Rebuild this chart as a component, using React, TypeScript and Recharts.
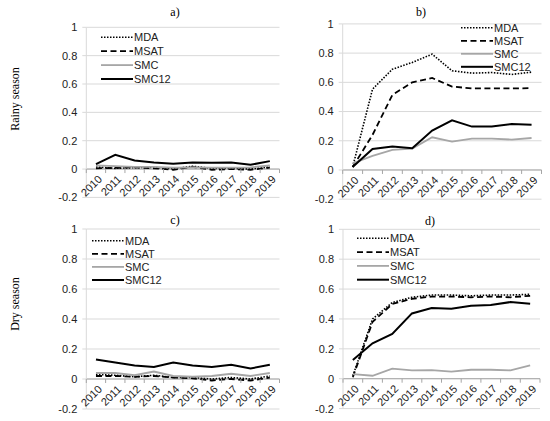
import React from "react";
import { LineChart, Line, XAxis, YAxis, CartesianGrid, ReferenceLine, ReferenceDot } from "recharts";

const years = ["2010", "2011", "2012", "2013", "2014", "2015", "2016", "2017", "2018", "2019"];
const yTicks = [-0.2, 0, 0.2, 0.4, 0.6, 0.8, 1];

// a) rainy season
const aMDA = [0.015, 0.005, 0.01, 0.012, 0.002, 0.02, 0.005, 0.005, 0.0, 0.015];
const aMSAT = [0.005, 0.008, 0.012, 0.005, -0.005, 0.015, -0.005, 0.0, -0.005, 0.01];
const aSMC = [0.025, 0.02, 0.015, 0.015, 0.01, 0.012, 0.01, 0.01, 0.012, 0.025];
const aSMC12 = [0.035, 0.1, 0.06, 0.047, 0.038, 0.047, 0.045, 0.047, 0.03, 0.056];

// b) rainy season
const bMDA = [0.02, 0.553, 0.69, 0.736, 0.793, 0.679, 0.663, 0.667, 0.654, 0.67];
const bMSAT = [0.02, 0.24, 0.514, 0.6, 0.63, 0.571, 0.558, 0.558, 0.558, 0.56];
const bSMC = [0.045, 0.096, 0.137, 0.146, 0.224, 0.194, 0.215, 0.215, 0.208, 0.219];
const bSMC12 = [0.02, 0.144, 0.16, 0.149, 0.27, 0.34, 0.297, 0.297, 0.315, 0.31];

// c) dry season
const cMDA = [0.03, 0.025, 0.015, 0.025, 0.01, 0.01, 0.0, 0.01, 0.0, 0.02];
const cMSAT = [0.02, 0.02, 0.015, 0.02, 0.01, 0.005, -0.01, 0.0, -0.01, 0.01];
const cSMC = [0.04, 0.04, 0.025, 0.05, 0.02, 0.015, 0.02, 0.035, 0.02, 0.04];
const cSMC12 = [0.13, 0.11, 0.09, 0.08, 0.11, 0.09, 0.08, 0.095, 0.07, 0.095];

// d) dry season
const dMDA = [0.02, 0.4, 0.51, 0.545, 0.56, 0.56, 0.555, 0.56, 0.56, 0.565];
const dMSAT = [0.01, 0.38, 0.5, 0.535, 0.55, 0.55, 0.545, 0.55, 0.545, 0.555];
const dSMC = [0.031, 0.02, 0.067, 0.056, 0.058, 0.047, 0.06, 0.06, 0.056, 0.089];
const dSMC12 = [0.125, 0.237, 0.3, 0.437, 0.473, 0.469, 0.489, 0.493, 0.513, 0.502];

const seriesNames = ["MDA", "MSAT", "SMC", "SMC12"];

const SANS = "'Liberation Sans Narrow', 'Arial Narrow', 'Liberation Sans', sans-serif";
const SERIF = "'Liberation Serif', 'DejaVu Serif', serif";

const styles: Record<string, { stroke: string; width: number; dash?: string }> = {
  MDA: { stroke: "#000000", width: 1.6, dash: "1.5 1.5" },
  MSAT: { stroke: "#000000", width: 1.8, dash: "6 3.5" },
  SMC: { stroke: "#a6a6a6", width: 1.8 },
  SMC12: { stroke: "#000000", width: 2 },
};

const rows = (mda: number[], msat: number[], smc: number[], smc12: number[]) =>
  years.map((year, i) => ({ year, MDA: mda[i], MSAT: msat[i], SMC: smc[i], SMC12: smc12[i] }));

const fmt = (v: number) => (v === 0 ? "0" : v === 1 ? "1" : v.toFixed(1));

interface PanelProps {
  data: ReturnType<typeof rows>;
  left: number;
  top: number;
  width: number;
  height: number;
  margin: { top: number; right: number; bottom: number; left: number };
  step: number;
}

function Panel({ data, left, top, width, height, margin, step }: PanelProps) {
  return (
    <div style={{ position: "absolute", left, top }}>
      <LineChart width={width} height={height} data={data} margin={margin}>
        <CartesianGrid vertical={false} stroke="#d9d9d9" strokeWidth={1} />
        <XAxis
          dataKey="year"
          hide
          padding={{ left: step / 2, right: step / 2 }}
        />
        <YAxis
          domain={[-0.2, 1]}
          ticks={yTicks}
          tickFormatter={fmt}
          width={40}
          axisLine={{ stroke: "#d9d9d9" }}
          tickLine={{ stroke: "#d9d9d9" }}
          tickSize={4}
          tickMargin={5}
          tick={{ fill: "#222", fontSize: 11, fontFamily: SANS }}
        />
        <ReferenceLine y={0} stroke="#a6a6a6" strokeWidth={1} />
        {years.map((year, i) => (
          <ReferenceDot
            key={year}
            x={year}
            y={0}
            r={0}
            shape={(p: any) => (
              <g>
                <line x1={p.cx - step / 2} x2={p.cx - step / 2} y1={p.cy} y2={p.cy + 4} stroke="#a6a6a6" />
                {i === years.length - 1 && (
                  <line x1={p.cx + step / 2} x2={p.cx + step / 2} y1={p.cy} y2={p.cy + 4} stroke="#a6a6a6" />
                )}
                <text
                  x={p.cx + 4}
                  y={p.cy + 8}
                  textAnchor="end"
                  dominantBaseline="central"
                  transform={`rotate(-45 ${p.cx + 4} ${p.cy + 8})`}
                  fontSize={11}
                  fontFamily={SANS}
                  fill="#222"
                >
                  {year}
                </text>
              </g>
            )}
          />
        ))}
        {seriesNames.map((name) => (
          <Line
            key={name}
            type="linear"
            dataKey={name}
            stroke={styles[name].stroke}
            strokeWidth={styles[name].width}
            strokeDasharray={styles[name].dash}
            dot={false}
            isAnimationActive={false}
          />
        ))}
      </LineChart>
    </div>
  );
}

function LegendBox({ x, y, gap }: { x: number; y: number; gap: number }) {
  return (
    <g>
      {seriesNames.map((name, i) => (
        <g key={name}>
          <line
            x1={x}
            x2={x + 32}
            y1={y + i * gap}
            y2={y + i * gap}
            stroke={styles[name].stroke}
            strokeWidth={styles[name].width}
            strokeDasharray={styles[name].dash}
          />
          <text
            x={x + 33}
            y={y + i * gap}
            dominantBaseline="central"
            fontSize={11}
            fontFamily={SANS}
            fill="#222"
          >
            {name}
          </text>
        </g>
      ))}
    </g>
  );
}

export default function App() {
  return (
    <div style={{ position: "absolute", left: 0, top: 0, width: 550, height: 421, background: "#fff" }}>
      <Panel
        data={rows(aMDA, aMSAT, aSMC, aSMC12)}
        left={0}
        top={0}
        width={285}
        height={210}
        margin={{ top: 27.3, right: 5.5, bottom: 12.6, left: 46.3 }}
        step={19.33}
      />
      <Panel
        data={rows(bMDA, bMSAT, bSMC, bSMC12)}
        left={285}
        top={0}
        width={265}
        height={210}
        margin={{ top: 23.9, right: 8.5, bottom: 10.8, left: 17.7 }}
        step={19.88}
      />
      <Panel
        data={rows(cMDA, cMSAT, cSMC, cSMC12)}
        left={0}
        top={210}
        width={285}
        height={211}
        margin={{ top: 19, right: 5.5, bottom: 12, left: 46.3 }}
        step={19.33}
      />
      <Panel
        data={rows(dMDA, dMSAT, dSMC, dSMC12)}
        left={285}
        top={210}
        width={265}
        height={211}
        margin={{ top: 19.3, right: 10, bottom: 12.4, left: 18 }}
        step={19.7}
      />
      <svg width={550} height={421} style={{ position: "absolute", left: 0, top: 0, pointerEvents: "none" }}>
        <text x={175} y={16} textAnchor="middle" fontSize={12} fontFamily={SERIF} fill="#000">a)</text>
        <text x={421} y={16} textAnchor="middle" fontSize={12} fontFamily={SERIF} fill="#000">b)</text>
        <text x={175} y={224} textAnchor="middle" fontSize={12} fontFamily={SERIF} fill="#000">c)</text>
        <text x={430} y={225} textAnchor="middle" fontSize={12} fontFamily={SERIF} fill="#000">d)</text>
        <text
          x={15}
          y={99}
          textAnchor="middle"
          dominantBaseline="central"
          transform="rotate(-90 15 99)"
          fontSize={12}
          fontFamily={SERIF}
          fill="#000"
        >
          Rainy season
        </text>
        <text
          x={15}
          y={304}
          textAnchor="middle"
          dominantBaseline="central"
          transform="rotate(-90 15 304)"
          fontSize={12}
          fontFamily={SERIF}
          fill="#000"
        >
          Dry season
        </text>
        <LegendBox x={101} y={37.3} gap={13.9} />
        <LegendBox x={461} y={27.8} gap={13} />
        <LegendBox x={92} y={240.7} gap={13.1} />
        <LegendBox x={357} y={238.3} gap={13.8} />
      </svg>
    </div>
  );
}
